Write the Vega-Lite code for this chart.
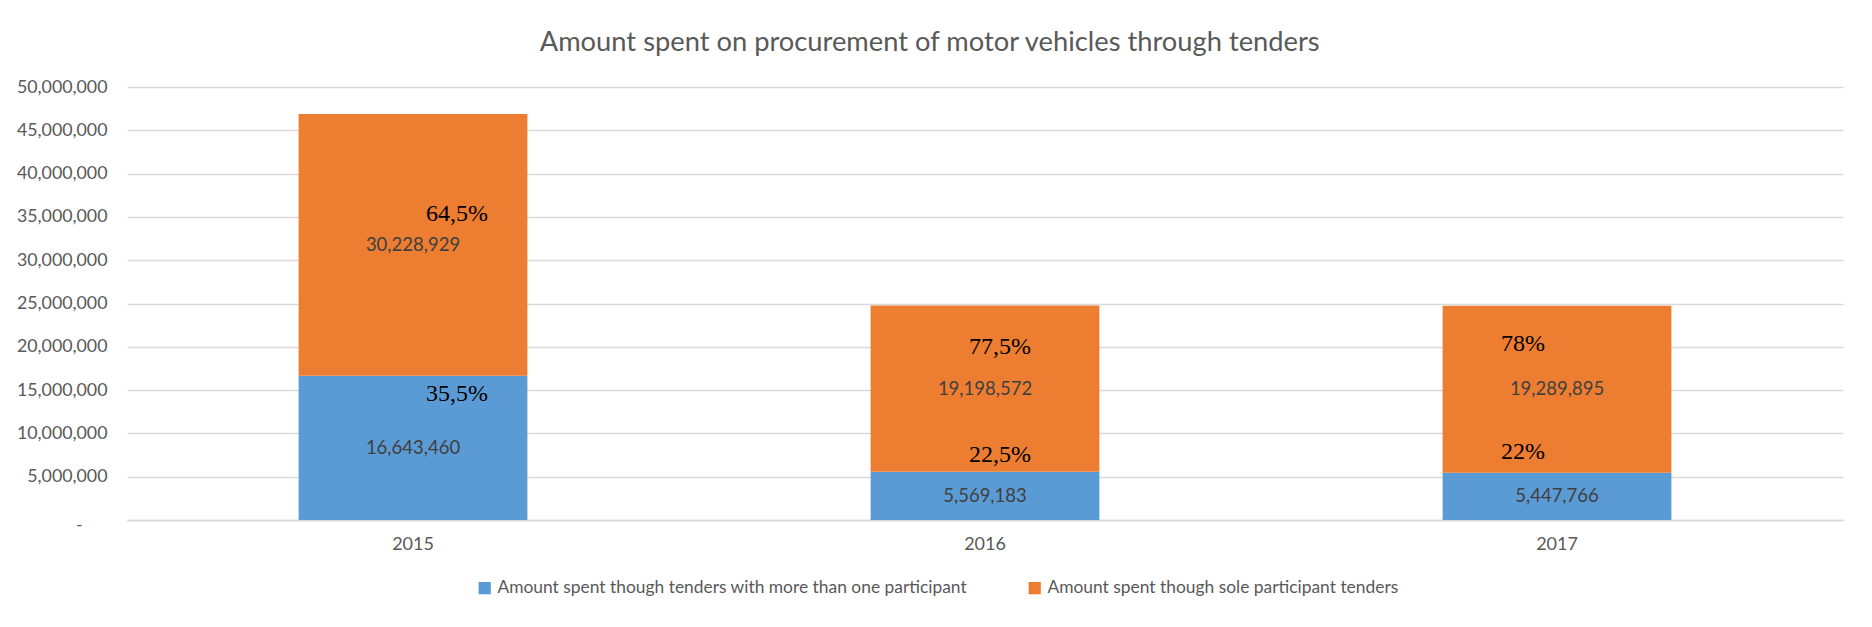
{
  "$schema": "https://vega.github.io/schema/vega-lite/v6.json",
  "autosize": {"type": "none"},
  "padding": {"left": 127, "top": 87, "right": 29, "bottom": 107},
  "width": 1716,
  "height": 433,
  "background": "white",
  "title": {
    "text": "Amount spent on procurement of motor vehicles through tenders",
    "anchor": "middle",
    "frame": "bounds",
    "font": "Lato",
    "fontSize": 27.3,
    "fontWeight": "normal",
    "color": "#595959",
    "offset": 22
  },
  "datasets": {
    "amounts": [
      {"year": "2015", "series": "Amount spent though tenders with more than one participant", "k": 1, "amount": 16643460},
      {"year": "2015", "series": "Amount spent though sole participant tenders", "k": 2, "amount": 30228929},
      {"year": "2016", "series": "Amount spent though tenders with more than one participant", "k": 1, "amount": 5569183},
      {"year": "2016", "series": "Amount spent though sole participant tenders", "k": 2, "amount": 19198572},
      {"year": "2017", "series": "Amount spent though tenders with more than one participant", "k": 1, "amount": 5447766},
      {"year": "2017", "series": "Amount spent though sole participant tenders", "k": 2, "amount": 19289895}
    ],
    "pcts": [
      {"year": "2015", "pct": "64,5%", "at": 35300000},
      {"year": "2015", "pct": "35,5%", "at": 14500000},
      {"year": "2016", "pct": "77,5%", "at": 20000000},
      {"year": "2016", "pct": "22,5%", "at": 7500000},
      {"year": "2017", "pct": "78%", "at": 20300000},
      {"year": "2017", "pct": "22%", "at": 7900000}
    ]
  },
  "encoding": {
    "x": {
      "field": "year",
      "type": "nominal",
      "scale": {"paddingInner": 0.6, "paddingOuter": 0.3},
      "axis": {
        "title": null,
        "labelAngle": 0,
        "labelFont": "Lato",
        "labelFontSize": 18,
        "labelColor": "#595959",
        "labelPadding": 15,
        "ticks": false,
        "tickSize": 0,
        "domainColor": "#D9D9D9",
        "domainWidth": 1.5
      }
    }
  },
  "layer": [
    {
      "data": {"name": "amounts"},
      "transform": [
        {"stack": "amount", "groupby": ["year"], "sort": [{"field": "k", "order": "ascending"}], "as": ["v0", "v1"]}
      ],
      "mark": {"type": "bar"},
      "encoding": {
        "y": {
          "field": "v0",
          "type": "quantitative",
          "scale": {"domain": [0, 50000000]},
          "axis": {
            "title": null,
            "values": [0, 5000000, 10000000, 15000000, 20000000, 25000000, 30000000, 35000000, 40000000, 45000000, 50000000],
            "labelExpr": "datum.value === 0 ? '-' : format(datum.value, ',')",
            "labelFont": "Lato",
            "labelFontSize": 17.8,
            "labelColor": "#595959",
            "labelPadding": {"condition": {"test": "datum.value === 0", "value": 45}, "value": 20},
            "labelOffset": {"condition": {"test": "datum.value === 0", "value": 5}, "value": 0},
            "ticks": false,
            "tickSize": 0,
            "domain": false,
            "grid": true,
            "gridColor": "#D9D9D9",
            "gridWidth": 1.5
          }
        },
        "y2": {"field": "v1"},
        "color": {
          "field": "series",
          "type": "nominal",
          "scale": {
            "domain": ["Amount spent though tenders with more than one participant", "Amount spent though sole participant tenders"],
            "range": ["#5B9BD5", "#ED7D31"]
          },
          "legend": {
            "title": null,
            "orient": "none",
            "legendX": 349,
            "legendY": 492,
            "direction": "horizontal",
            "symbolType": "square",
            "symbolSize": 150,
            "symbolStrokeWidth": 0,
            "labelFont": "Lato",
            "labelFontSize": 17.4,
            "labelColor": "#595959",
            "labelLimit": 800,
            "columnPadding": 58
          }
        }
      }
    },
    {
      "data": {"name": "amounts"},
      "transform": [
        {"stack": "amount", "groupby": ["year"], "sort": [{"field": "k", "order": "ascending"}], "as": ["v0", "v1"]},
        {"calculate": "(datum.v0 + datum.v1) / 2", "as": "mid"}
      ],
      "mark": {"type": "text", "font": "Lato", "fontSize": 18.5, "color": "#404040", "baseline": "middle", "align": "center"},
      "encoding": {
        "y": {"field": "mid", "type": "quantitative"},
        "text": {"field": "amount", "type": "quantitative", "format": ","}
      }
    },
    {
      "data": {"name": "pcts"},
      "transform": [{"filter": "datum.year === '2015'"}],
      "mark": {"type": "text", "font": "Liberation Serif", "fontSize": 24, "color": "#000000", "baseline": "middle", "align": "center", "dx": 44},
      "encoding": {
        "y": {"field": "at", "type": "quantitative"},
        "text": {"field": "pct", "type": "nominal"}
      }
    },
    {
      "data": {"name": "pcts"},
      "transform": [{"filter": "datum.year === '2016'"}],
      "mark": {"type": "text", "font": "Liberation Serif", "fontSize": 24, "color": "#000000", "baseline": "middle", "align": "center", "dx": 15},
      "encoding": {
        "y": {"field": "at", "type": "quantitative"},
        "text": {"field": "pct", "type": "nominal"}
      }
    },
    {
      "data": {"name": "pcts"},
      "transform": [{"filter": "datum.year === '2017'"}],
      "mark": {"type": "text", "font": "Liberation Serif", "fontSize": 24, "color": "#000000", "baseline": "middle", "align": "center", "dx": -34},
      "encoding": {
        "y": {"field": "at", "type": "quantitative"},
        "text": {"field": "pct", "type": "nominal"}
      }
    }
  ],
  "config": {
    "view": {"stroke": null}
  }
}
